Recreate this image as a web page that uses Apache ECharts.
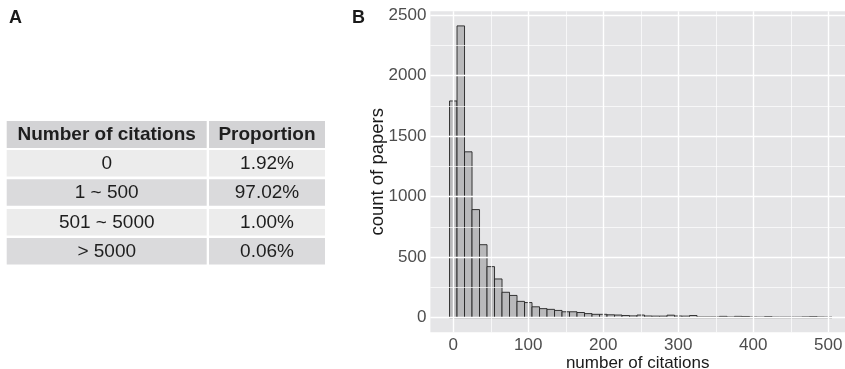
<!DOCTYPE html>
<html>
<head>
<meta charset="utf-8">
<script src="https://cdn.jsdelivr.net/npm/echarts@6/dist/echarts.min.js"></script>
<style>
html,body{margin:0;padding:0;background:#fff;}
#chart{width:845px;height:369px;}
</style>
</head>
<body>
<div id="chart"></div>
<script>
// ---- Panel A: table data ----
var tableHeaders = ['Number of citations', 'Proportion'];
var citationRanges = ['0', '1 ~ 500', '501 ~ 5000', '> 5000'];
var proportions = ['1.92%', '97.02%', '1.00%', '0.06%'];

// ---- Panel B: histogram data (bin centres, width 10) ----
var citationBins = [0, 10, 20, 30, 40, 50, 60, 70, 80, 90,
  100, 110, 120, 130, 140, 150, 160, 170, 180, 190,
  200, 210, 220, 230, 240, 250, 260, 270, 280, 290,
  300, 310, 320, 330, 340, 350, 360, 370, 380, 390,
  400, 410, 420, 430, 440, 450, 460, 470, 480, 490, 500];
var paperCounts = [1790, 2410, 1370, 893, 603, 422, 320, 210, 184, 135,
  125, 90, 75, 69, 60, 49, 49, 43, 34, 28,
  28, 24, 22, 18, 15, 22, 14, 13, 13, 21,
  14, 13, 18, 6, 6, 6, 11, 6, 11, 10,
  6, 5, 9, 5, 5, 5, 5, 7, 9, 6, 5];
var binWidth = 10;

var xTicks = [0, 100, 200, 300, 400, 500];
var xMinor = [50, 150, 250, 350, 450];
var yTicks = [0, 500, 1000, 1500, 2000, 2500];
var yMinor = [250, 750, 1250, 1750, 2250];

var FONT = '"Liberation Sans", Arial, Helvetica, sans-serif';

var chart = echarts.init(document.getElementById('chart'), null, {renderer: 'canvas'});

// table graphic
var tableGraphics = [];
var colX = [6.7, 209];
var colW = [200, 116];
var headerTop = 121, headerH = 27;
var rowTops = [150, 179.3, 209, 238];
var rowH = 26.5;
function cell(x, y, w, h, fill, text, bold) {
  tableGraphics.push({
    type: 'rect', shape: {x: x, y: y, width: w, height: h},
    style: {fill: fill}, silent: true
  });
  tableGraphics.push({
    type: 'text', x: x + w / 2, y: y + h / 2 + 0.5,
    style: {text: text, fill: '#1e1e1e', font: (bold ? 'bold ' : '') + '19px ' + FONT,
      textAlign: 'center', textVerticalAlign: 'middle'},
    silent: true
  });
}
for (var c = 0; c < 2; c++) {
  cell(colX[c], headerTop, colW[c], headerH, '#d3d3d5', tableHeaders[c], true);
}
for (var r = 0; r < citationRanges.length; r++) {
  var fill = (r % 2 === 0) ? '#ececec' : '#dadadc';
  cell(colX[0], rowTops[r], colW[0], rowH, fill, citationRanges[r], false);
  cell(colX[1], rowTops[r], colW[1], rowH, fill, proportions[r], false);
}
tableGraphics.push({type: 'text', x: 9, y: 9,
  style: {text: 'A', font: 'bold 18px ' + FONT, fill: '#1a1a1a'}, silent: true});
tableGraphics.push({type: 'text', x: 352, y: 9,
  style: {text: 'B', font: 'bold 18px ' + FONT, fill: '#1a1a1a'}, silent: true});

var gridLines = [];
xTicks.forEach(function (v) { gridLines.push({xAxis: v, lineStyle: {width: 1.4}}); });
xMinor.forEach(function (v) { gridLines.push({xAxis: v, lineStyle: {width: 0.7}}); });
yTicks.forEach(function (v) { gridLines.push({yAxis: v, lineStyle: {width: 1.4}}); });
yMinor.forEach(function (v) { gridLines.push({yAxis: v, lineStyle: {width: 0.7}}); });

var histData = citationBins.map(function (b, i) { return [b, paperCounts[i]]; });

var option = {
  animation: false,
  graphic: tableGraphics,
  grid: {
    left: 430.4, top: 11.3, width: 414.6, height: 321,
    outerBoundsMode: 'none', containLabel: false,
    show: true, backgroundColor: '#e5e5e7', borderWidth: 0
  },
  xAxis: {
    type: 'value', min: -30.5, max: 522.3,
    name: 'number of citations', nameLocation: 'middle', nameGap: 22.5, nameMoveOverlap: false,
    nameTextStyle: {fontFamily: FONT, fontSize: 17, color: '#1a1a1a', verticalAlign: 'top'},
    axisLine: {show: false},
    axisTick: {show: true, length: 3, lineStyle: {color: '#333', width: 1}, customValues: xTicks},
    axisLabel: {fontFamily: FONT, fontSize: 17, color: '#4d4d4d', margin: 4.5, customValues: xTicks,
      formatter: function (v) { return String(v); }},
    splitLine: {show: false}
  },
  yAxis: {
    type: 'value', min: -120.5, max: 2530.5,
    name: 'count of papers', nameLocation: 'middle', nameGap: 43, nameMoveOverlap: false,
    nameTextStyle: {fontFamily: FONT, fontSize: 18.5, color: '#1a1a1a'},
    axisLine: {show: false},
    axisTick: {show: true, length: 3, lineStyle: {color: '#333', width: 1}, customValues: yTicks},
    axisLabel: {fontFamily: FONT, fontSize: 17, color: '#4d4d4d', margin: 4, customValues: yTicks,
      formatter: function (v) { return String(v); }},
    splitLine: {show: false}
  },
  series: [
    {
      type: 'line', data: [], z: 1, silent: true,
      markLine: {
        silent: true, symbol: ['none', 'none'], animation: false,
        label: {show: false},
        lineStyle: {color: '#ffffff', type: 'solid', width: 1.4},
        emphasis: {disabled: true},
        data: gridLines
      }
    },
    {
      type: 'custom', z: 3, silent: true,
      data: histData,
      renderItem: function (params, api) {
        var center = api.value(0), count = api.value(1);
        var p0 = api.coord([center - binWidth / 2, count]);
        var p1 = api.coord([center + binWidth / 2, 0]);
        return {
          type: 'rect',
          shape: {x: p0[0], y: p0[1], width: p1[0] - p0[0], height: p1[1] - p0[1]},
          style: {fill: '#b9b9bb', stroke: '#222222', lineWidth: 0.9}
        };
      }
    }
  ]
};
chart.setOption(option);
</script>
</body>
</html>
